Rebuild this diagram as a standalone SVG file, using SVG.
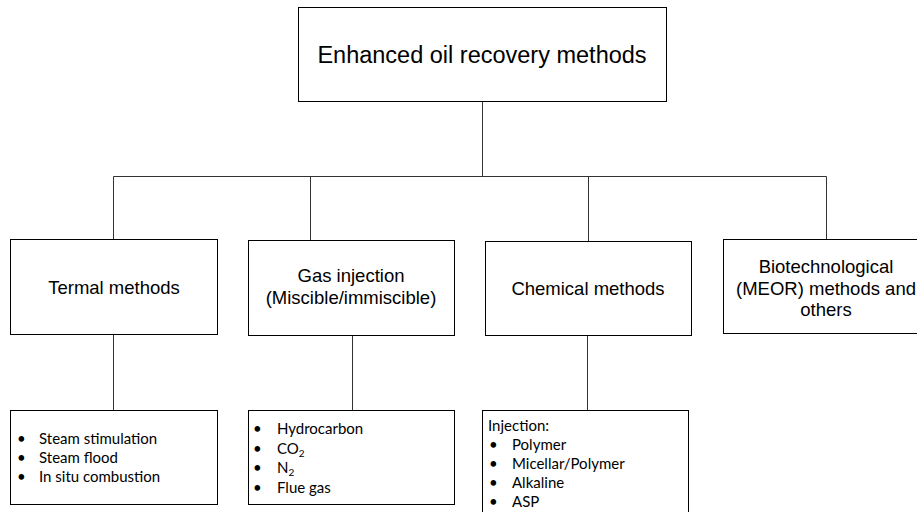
<svg xmlns="http://www.w3.org/2000/svg" width="917" height="512" viewBox="0 0 917 512">
<style>
.box{fill:#fff;stroke:#000;stroke-width:1}
.ln{fill:none;stroke:#333;stroke-width:1}
.t{font-family:"Liberation Sans",Arial,sans-serif;fill:#000;text-anchor:middle}
.l{font-family:Lato,"Noto Sans",sans-serif;font-size:15px;fill:#000}
</style>
<rect width="917" height="512" fill="#fff"/>
<g id="connectors">
<path class="ln" d="M482.5,101.5V176.5M113.5,176.5H826.5M113.5,176.5V239.5M310.5,176.5V240.5M588.5,176.5V241.5M826.5,176.5V239.5M113.5,334.5V410.5M352.5,335.5V410.5M587.5,335.5V410.5"/>
</g>
<g id="root">
<rect class="box" x="298.5" y="7.5" width="368" height="94"/>
<text class="t" x="482" y="62.5" font-size="23.5">Enhanced oil recovery methods</text>
</g>
<g id="thermal">
<rect class="box" x="10.5" y="239.5" width="207" height="95"/>
<text class="t" x="114" y="293.5" font-size="18.5">Termal methods</text>
</g>
<g id="gas">
<rect class="box" x="248.5" y="240.5" width="206" height="95"/>
<text class="t" x="351" y="281.5" font-size="18.5">Gas injection</text>
<text class="t" x="351" y="304" font-size="18.5">(Miscible/immiscible)</text>
</g>
<g id="chemical">
<rect class="box" x="485.5" y="241.5" width="206" height="94"/>
<text class="t" x="588" y="294.5" font-size="18.5">Chemical methods</text>
</g>
<g id="bio">
<rect class="box" x="723.5" y="239.5" width="206" height="94"/>
<text class="t" x="826" y="273" font-size="18.5">Biotechnological</text>
<text class="t" x="826" y="294.5" font-size="18.5">(MEOR) methods and</text>
<text class="t" x="826" y="316" font-size="18.5">others</text>
</g>
<g id="thermal-list">
<rect class="box" x="10.5" y="410.5" width="207" height="94"/>
<text class="l" y="444"><tspan x="17">•</tspan><tspan x="39">Steam stimulation</tspan></text>
<text class="l" y="463"><tspan x="17">•</tspan><tspan x="39">Steam flood</tspan></text>
<text class="l" y="482"><tspan x="17">•</tspan><tspan x="39">In situ combustion</tspan></text>
</g>
<g id="gas-list">
<rect class="box" x="248.5" y="410.5" width="206" height="94"/>
<text class="l" y="434"><tspan x="253">•</tspan><tspan x="277">Hydrocarbon</tspan></text>
<text class="l" y="454"><tspan x="253">•</tspan><tspan x="277">CO</tspan><tspan font-size="10" dy="3">2</tspan></text>
<text class="l" y="473"><tspan x="253">•</tspan><tspan x="277">N</tspan><tspan font-size="10" dy="3">2</tspan></text>
<text class="l" y="493"><tspan x="253">•</tspan><tspan x="277">Flue gas</tspan></text>
</g>
<g id="chemical-list">
<rect class="box" x="482.5" y="410.5" width="206" height="115"/>
<text class="l" x="488" y="431">Injection:</text>
<text class="l" y="450"><tspan x="489">•</tspan><tspan x="512">Polymer</tspan></text>
<text class="l" y="469"><tspan x="489">•</tspan><tspan x="512">Micellar/Polymer</tspan></text>
<text class="l" y="488"><tspan x="489">•</tspan><tspan x="512">Alkaline</tspan></text>
<text class="l" y="507"><tspan x="489">•</tspan><tspan x="512">ASP</tspan></text>
</g>
</svg>
